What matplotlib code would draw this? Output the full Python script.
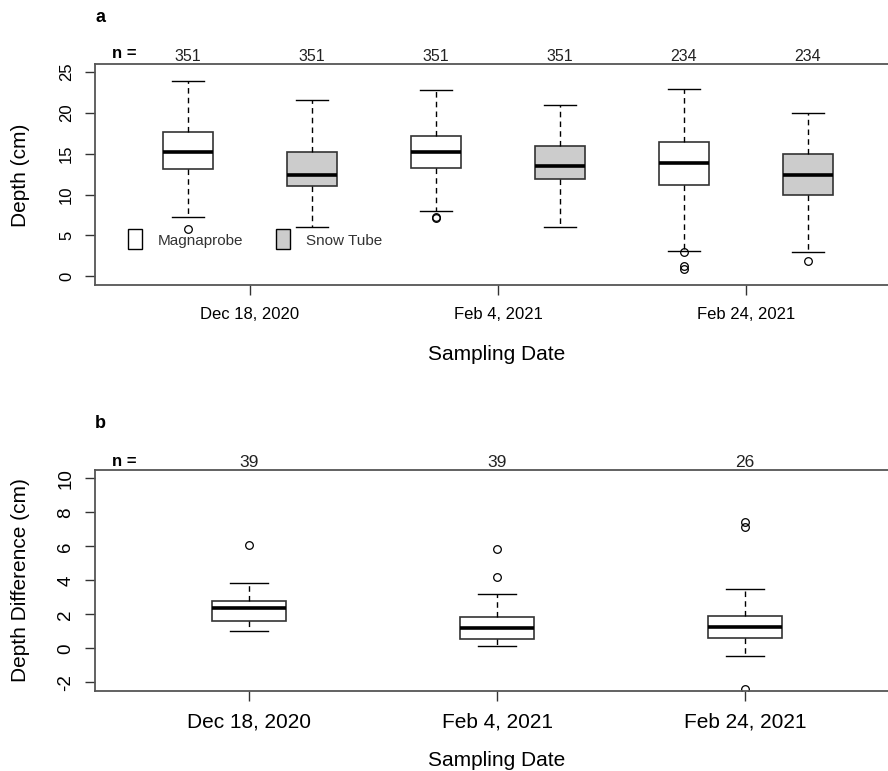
import matplotlib
matplotlib.use("Agg")
import matplotlib.pyplot as plt
from matplotlib.patches import Rectangle

plt.rcParams['font.family'] = ['Liberation Sans', 'DejaVu Sans']
plt.rcParams['axes.unicode_minus'] = False

# ---------------- data ----------------
date_labels = ["Dec 18, 2020", "Feb 4, 2021", "Feb 24, 2021"]
series_names = ["Magnaprobe", "Snow Tube"]

# Panel a: six boxes (Mag, Tube) x 3 dates
a_counts   = [351, 351, 351, 351, 234, 234]
a_whislo   = [7.26, 6.0, 8.03, 6.0, 3.06, 2.94]
a_q1       = [13.13, 11.02, 13.29, 11.87, 11.14, 9.95]
a_med      = [15.25, 12.44, 15.21, 13.46, 13.83, 12.44]
a_q3       = [17.66, 15.21, 17.13, 15.99, 16.48, 14.97]
a_whishi   = [23.94, 21.54, 22.8, 20.97, 22.89, 19.95]
a_fliers   = [[5.75], [], [7.25, 7.15], [], [2.97, 1.3, 0.95], [1.91]]
a_fill     = ["white", "#cccccc", "white", "#cccccc", "white", "#cccccc"]

# Panel b: depth difference per date
b_counts   = [39, 39, 26]
b_whislo   = [1.02, 0.14, -0.47]
b_q1       = [1.59, 0.53, 0.62]
b_med      = [2.37, 1.19, 1.25]
b_q3       = [2.80, 1.86, 1.92]
b_whishi   = [3.84, 3.18, 3.47]
b_fliers   = [[6.06], [4.21, 5.82], [7.45, 7.15, -2.38]]

a_yticks = [0, 5, 10, 15, 20, 25]
b_yticks = [-2, 0, 2, 4, 6, 8, 10]

# ---------------- layout ----------------
W, H = 888, 771
fig = plt.figure(figsize=(W / 100, H / 100), dpi=100)

def px_axes(left, top, right, bottom):
    return fig.add_axes([left / W, 1 - bottom / H, (right - left) / W, (bottom - top) / H])

spine_col = "#555555"

def style_axes(ax, ytick_size, xtick_size):
    for s in ["top", "bottom", "left", "right"]:
        ax.spines[s].set_color(spine_col)
        ax.spines[s].set_linewidth(1.3)
    ax.tick_params(axis="both", length=7, width=1.0, color="#333333")
    ax.tick_params(axis="y", labelrotation=90, labelsize=ytick_size, pad=8)
    ax.tick_params(axis="x", labelsize=xtick_size, pad=9)
    for lab in ax.get_yticklabels():
        lab.set_va("center")

def make_stats(wlo, q1, med, q3, whi, fl):
    return [dict(whislo=a, q1=b, med=c, q3=d, whishi=e, fliers=f)
            for a, b, c, d, e, f in zip(wlo, q1, med, q3, whi, fl)]

boxprops = dict(edgecolor="#333333", linewidth=1.2)
whiskerprops = dict(color="black", linewidth=1.0, linestyle=(0, (4, 3)))
capprops = dict(color="black", linewidth=1.0)
medianprops = dict(color="black", linewidth=2.6)
flierprops = dict(marker="o", markerfacecolor="none", markeredgecolor="black",
                  markersize=5.5, markeredgewidth=0.9, linestyle="none")

# ---------------- panel a ----------------
axa = px_axes(95, 64, 901, 285)
pos_a = list(range(1, len(a_med) + 1))
bp = axa.bxp(make_stats(a_whislo, a_q1, a_med, a_q3, a_whishi, a_fliers),
             positions=pos_a, widths=0.4, capwidths=0.26, patch_artist=True,
             boxprops=boxprops, whiskerprops=whiskerprops, capprops=capprops,
             medianprops=medianprops, flierprops=flierprops)
for patch, c in zip(bp["boxes"], a_fill):
    patch.set_facecolor(c)
axa.set_xlim(0.25, 6.75)
axa.set_ylim(-1.06, 25.98)
axa.set_yticks(a_yticks)
axa.set_xticks([1.5, 3.5, 5.5])
axa.set_xticklabels(date_labels)
style_axes(axa, 12, 12)
for p, n in zip(pos_a, a_counts):
    axa.text(p, 1.0, str(n), transform=axa.get_xaxis_transform(), ha="center",
             va="bottom", fontsize=11.5, color="#222222")

# legend (manual, R-style)
for i, (name, c) in enumerate(zip(series_names, a_fill[:2])):
    x0 = [128, 276][i]
    fig.add_artist(Rectangle((x0 / W, 1 - 249 / H), 14 / W, 20 / H, transform=fig.transFigure,
                             facecolor=c, edgecolor="black", linewidth=1.0))
    fig.text((x0 + 30) / W, 1 - 241 / H, name, ha="left", va="center", fontsize=11,
             color="#333333")

fig.text(95 / W, 1 - 18 / H, "a", ha="left", va="center", fontsize=13, fontweight="bold")
fig.text(124 / W, 1 - 54 / H, "n =", ha="center", va="center", fontsize=12, fontweight="bold")
fig.text(21 / W, 1 - 175 / H, "Depth (cm)", rotation=90, ha="center", va="center", fontsize=15)
fig.text(497 / W, 1 - 355 / H, "Sampling Date", ha="center", va="center", fontsize=15)

# ---------------- panel b ----------------
axb = px_axes(95, 470, 901, 690.7)
pos_b = list(range(1, len(b_med) + 1))
bpb = axb.bxp(make_stats(b_whislo, b_q1, b_med, b_q3, b_whishi, b_fliers),
              positions=pos_b, widths=0.3, capwidths=0.15, patch_artist=True,
              boxprops=boxprops, whiskerprops=whiskerprops,
              capprops=capprops, medianprops=medianprops, flierprops=flierprops)
for patch in bpb["boxes"]:
    patch.set_facecolor("white")
axb.set_xlim(0.379, 3.629)
axb.set_ylim(-2.49, 10.49)
axb.set_yticks(b_yticks)
axb.set_xticks(pos_b)
axb.set_xticklabels(date_labels)
style_axes(axb, 13.5, 15)
for p, n in zip(pos_b, b_counts):
    axb.text(p, 1.0, str(n), transform=axb.get_xaxis_transform(), ha="center",
             va="bottom", fontsize=12.5, color="#222222")

fig.text(95 / W, 1 - 423 / H, "b", ha="left", va="center", fontsize=13, fontweight="bold")
fig.text(124 / W, 1 - 461 / H, "n =", ha="center", va="center", fontsize=12, fontweight="bold")
fig.text(21 / W, 1 - 580 / H, "Depth Difference (cm)", rotation=90, ha="center", va="center",
         fontsize=15)
fig.text(497 / W, 1 - 761 / H, "Sampling Date", ha="center", va="center", fontsize=15)

fig.savefig("out.png", dpi=100)
